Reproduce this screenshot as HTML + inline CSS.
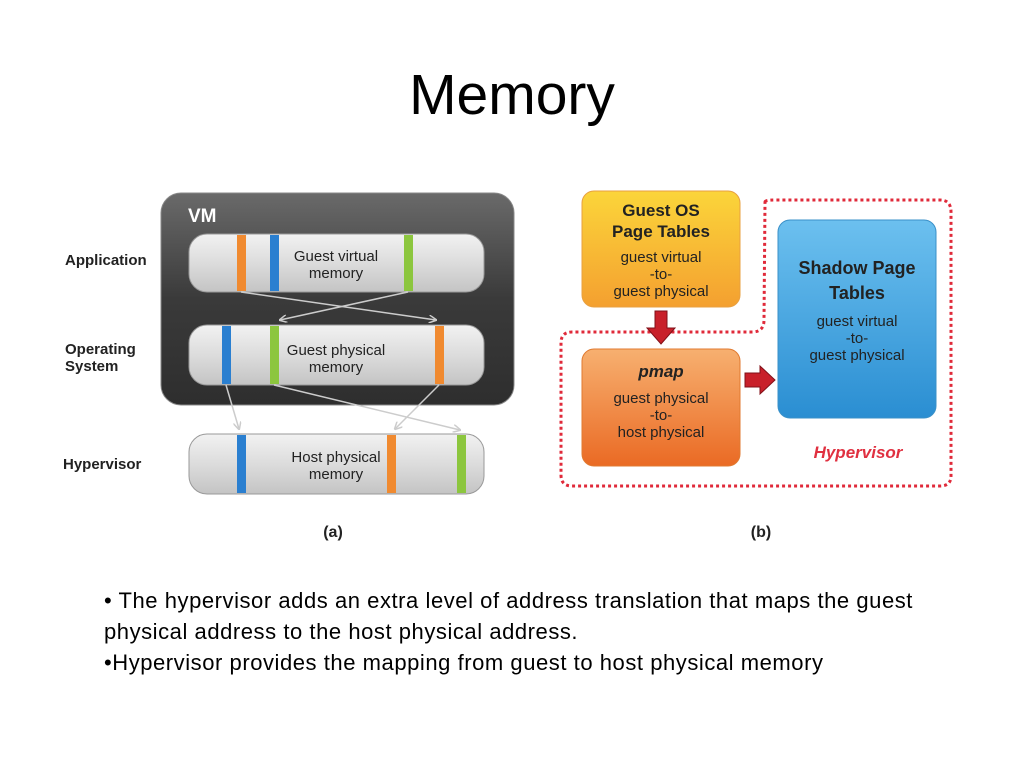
<!DOCTYPE html>
<html><head><meta charset="utf-8"><style>
body{margin:0;background:#fff;}
#p{position:relative;width:1024px;height:768px;overflow:hidden;font-family:"Liberation Sans",sans-serif;}
.t{position:absolute;left:0;width:1024px;text-align:center;top:62px;font-size:57px;color:#000;}
.b{position:absolute;left:104px;font-size:22px;letter-spacing:0.55px;color:#000;white-space:nowrap;}
</style></head><body><div id="p">
<div class="t">Memory</div>
<svg width="1024" height="768" style="position:absolute;left:0;top:0" font-family="Liberation Sans, sans-serif">
<defs>
<linearGradient id="vm" x1="0" y1="0" x2="0" y2="1"><stop offset="0" stop-color="#6a6a6a"/><stop offset="0.5" stop-color="#3a3a3a"/><stop offset="1" stop-color="#2e2e2e"/></linearGradient>
<linearGradient id="bar" x1="0" y1="0" x2="0" y2="1"><stop offset="0" stop-color="#f2f2f2"/><stop offset="0.5" stop-color="#dcdcdc"/><stop offset="1" stop-color="#c4c4c4"/></linearGradient>
<linearGradient id="yo" x1="0" y1="0" x2="0" y2="1"><stop offset="0" stop-color="#fbd53a"/><stop offset="1" stop-color="#f4a030"/></linearGradient>
<linearGradient id="or" x1="0" y1="0" x2="0" y2="1"><stop offset="0" stop-color="#f7b070"/><stop offset="1" stop-color="#ea6a24"/></linearGradient>
<linearGradient id="bl" x1="0" y1="0" x2="0" y2="1"><stop offset="0" stop-color="#6cc0ef"/><stop offset="1" stop-color="#2a8ed2"/></linearGradient>
<marker id="ar" markerWidth="8" markerHeight="8" refX="7" refY="4" orient="auto" markerUnits="userSpaceOnUse"><path d="M0,0 L8,4 L0,8" fill="none" stroke="#ccc" stroke-width="1.5"/></marker>
</defs>
<rect x="161" y="193" width="353" height="212" rx="20" fill="url(#vm)" stroke="#888" stroke-width="1"/>
<text x="188" y="222" font-size="19" font-weight="bold" fill="#fff">VM</text>
<text x="65" y="265" font-size="15" font-weight="bold" fill="#222">Application</text>
<text x="65" y="354" font-size="15" font-weight="bold" fill="#222">Operating</text>
<text x="65" y="371" font-size="15" font-weight="bold" fill="#222">System</text>
<text x="63" y="469" font-size="15" font-weight="bold" fill="#222">Hypervisor</text>
<g stroke="#999" stroke-width="1">
<rect x="189" y="234" width="295" height="58" rx="18" fill="url(#bar)"/>
<rect x="189" y="325" width="295" height="60" rx="18" fill="url(#bar)"/>
<rect x="189" y="434" width="295" height="60" rx="18" fill="url(#bar)"/>
</g>
<rect x="237" y="235" width="9" height="56" fill="#f08a30"/><rect x="270" y="235" width="9" height="56" fill="#2a7fd0"/><rect x="404" y="235" width="9" height="56" fill="#8cc63e"/>
<rect x="222" y="326" width="9" height="58" fill="#2a7fd0"/><rect x="270" y="326" width="9" height="58" fill="#8cc63e"/><rect x="435" y="326" width="9" height="58" fill="#f08a30"/>
<rect x="237" y="435" width="9" height="58" fill="#2a7fd0"/><rect x="387" y="435" width="9" height="58" fill="#f08a30"/><rect x="457" y="435" width="9" height="58" fill="#8cc63e"/>
<g font-size="15" fill="#222" text-anchor="middle">
<text x="336" y="261">Guest virtual</text><text x="336" y="278">memory</text>
<text x="336" y="355">Guest physical</text><text x="336" y="372">memory</text>
<text x="336" y="462">Host physical</text><text x="336" y="479">memory</text>
</g>
<g stroke="#ccc" stroke-width="1.5" fill="none" marker-end="url(#ar)">
<line x1="241" y1="292" x2="436" y2="320"/>
<line x1="408" y1="292" x2="280" y2="320"/>
<line x1="226" y1="385" x2="239" y2="429"/>
<line x1="274" y1="385" x2="460" y2="430"/>
<line x1="439" y1="385" x2="395" y2="429"/>
</g>
<text x="333" y="537" font-size="16" font-weight="bold" fill="#222" text-anchor="middle">(a)</text>
<text x="761" y="537" font-size="16" font-weight="bold" fill="#222" text-anchor="middle">(b)</text>
<path d="M765,202 Q765,200 775,200 L940,200 Q951,200 951,212 L951,476 Q951,486 940,486 L572,486 Q561,486 561,475 L561,343 Q561,332 572,332 L752,332 Q764,332 764,320 Z" fill="none" stroke="#e02a3a" stroke-width="3" stroke-dasharray="3,3"/>
<rect x="582" y="191" width="158" height="116" rx="12" fill="url(#yo)" stroke="#e8a040"/>
<rect x="582" y="349" width="158" height="117" rx="12" fill="url(#or)" stroke="#e07a30"/>
<rect x="778" y="220" width="158" height="198" rx="12" fill="url(#bl)" stroke="#3a90c8"/>
<g text-anchor="middle" fill="#222">
<text x="661" y="216" font-size="17" font-weight="bold">Guest OS</text>
<text x="661" y="237" font-size="17" font-weight="bold">Page Tables</text>
<text x="661" y="262" font-size="15">guest virtual</text><text x="661" y="279" font-size="15">-to-</text><text x="661" y="296" font-size="15">guest physical</text>
<text x="661" y="377" font-size="17" font-weight="bold" font-style="italic">pmap</text>
<text x="661" y="403" font-size="15">guest physical</text><text x="661" y="420" font-size="15">-to-</text><text x="661" y="437" font-size="15">host physical</text>
<text x="857" y="274" font-size="18" font-weight="bold">Shadow Page</text>
<text x="857" y="299" font-size="18" font-weight="bold">Tables</text>
<text x="857" y="326" font-size="15">guest virtual</text><text x="857" y="343" font-size="15">-to-</text><text x="857" y="360" font-size="15">guest physical</text>
</g>
<text x="858" y="458" font-size="17" font-weight="bold" font-style="italic" fill="#e03040" text-anchor="middle">Hypervisor</text>
<path d="M655,311 L667,311 L667,328 L675,328 L661,344 L647,328 L655,328 Z" fill="#c8202a" stroke="#801018"/>
<path d="M745,373 L760,373 L760,366 L775,380 L760,394 L760,387 L745,387 Z" fill="#c8202a" stroke="#801018"/>
</svg>
<div class="b" style="top:588px">• The hypervisor adds an extra level of address translation that maps the guest</div>
<div class="b" style="top:619px">physical address to the host physical address.</div>
<div class="b" style="top:650px">•Hypervisor provides the mapping from guest to host physical memory</div>
</div></body></html>
